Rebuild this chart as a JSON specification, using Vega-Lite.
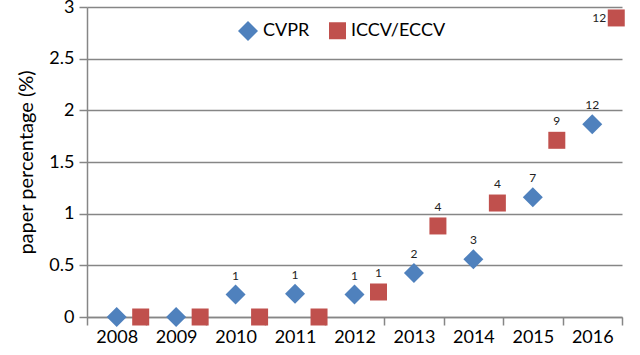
{
  "$schema": "https://vega.github.io/schema/vega-lite/v6.json",
  "autosize": "none",
  "width": 535,
  "height": 310,
  "padding": {"left": 87, "top": 7, "right": 18, "bottom": 38},
  "background": "white",
  "config": {
    "view": {"stroke": null},
    "font": "Lato"
  },
  "data": {
    "values": [
      {"year": "2008", "series": "CVPR", "value": 0, "label": null},
      {"year": "2009", "series": "CVPR", "value": 0, "label": null},
      {"year": "2010", "series": "CVPR", "value": 0.217, "label": "1"},
      {"year": "2011", "series": "CVPR", "value": 0.226, "label": "1"},
      {"year": "2012", "series": "CVPR", "value": 0.217, "label": "1"},
      {"year": "2013", "series": "CVPR", "value": 0.426, "label": "2"},
      {"year": "2014", "series": "CVPR", "value": 0.558, "label": "3"},
      {"year": "2015", "series": "CVPR", "value": 1.16, "label": "7"},
      {"year": "2016", "series": "CVPR", "value": 1.865, "label": "12"},
      {"year": "2008", "series": "ICCV/ECCV", "value": 0, "label": null},
      {"year": "2009", "series": "ICCV/ECCV", "value": 0, "label": null},
      {"year": "2010", "series": "ICCV/ECCV", "value": 0, "label": null},
      {"year": "2011", "series": "ICCV/ECCV", "value": 0, "label": null},
      {"year": "2012", "series": "ICCV/ECCV", "value": 0.242, "label": "1"},
      {"year": "2013", "series": "ICCV/ECCV", "value": 0.881, "label": "4"},
      {"year": "2014", "series": "ICCV/ECCV", "value": 1.103, "label": "4"},
      {"year": "2015", "series": "ICCV/ECCV", "value": 1.71, "label": "9"},
      {"year": "2016", "series": "ICCV/ECCV", "value": 2.894, "label": "12"}
    ]
  },
  "encoding": {
    "x": {
      "field": "year", "type": "ordinal",
      "scale": {"type": "band", "paddingInner": 0, "paddingOuter": 0},
      "axis": {
        "title": null, "labelAngle": 0, "labelFontSize": 18, "labelColor": "#000",
        "labelPadding": 3, "tickBand": "extent", "tickSize": 8, "tickColor": "#868686",
        "tickWidth": 1.5, "domainColor": "#868686", "domainWidth": 1.5, "grid": false
      }
    },
    "xOffset": {
      "field": "series", "type": "nominal",
      "scale": {"domain": ["CVPR", "ICCV/ECCV"], "range": [29.7, 53.7], "paddingInner": 0, "paddingOuter": 0}
    },
    "y": {
      "field": "value", "type": "quantitative",
      "scale": {"domain": [0, 3], "nice": false},
      "axis": {
        "title": "paper percentage (%)", "titleFontSize": 20, "titleFontWeight": "normal",
        "titleColor": "#000", "titlePadding": 12, "format": "~g",
        "values": [0, 0.5, 1, 1.5, 2, 2.5, 3], "labelFontSize": 18, "labelColor": "#000",
        "labelPadding": 5, "tickSize": 8, "tickColor": "#868686", "tickWidth": 1.5,
        "domainColor": "#868686", "domainWidth": 1.5,
        "grid": true, "gridColor": "#868686", "gridWidth": 1.5
      }
    }
  },
  "layer": [
    {
      "mark": {"type": "point", "filled": true, "opacity": 1},
      "encoding": {
        "color": {
          "field": "series", "type": "nominal",
          "scale": {"domain": ["CVPR", "ICCV/ECCV"], "range": ["#4F81BD", "#C0504D"]},
          "legend": {
            "title": null, "orient": "none", "direction": "horizontal",
            "legendX": 150, "legendY": 13, "labelFontSize": 18, "labelColor": "#000",
            "symbolSize": 220, "columnPadding": 18, "labelOffset": 4, "symbolOpacity": 1
          }
        },
        "shape": {
          "field": "series", "type": "nominal",
          "scale": {"domain": ["CVPR", "ICCV/ECCV"], "range": ["diamond", "square"]},
          "legend": null
        },
        "size": {
          "field": "series", "type": "nominal",
          "scale": {"domain": ["CVPR", "ICCV/ECCV"], "range": [400, 289]},
          "legend": null
        }
      }
    },
    {
      "transform": [
        {"filter": "datum.label != null && !(datum.year == '2016' && datum.series == 'ICCV/ECCV')"}
      ],
      "mark": {"type": "text", "dy": -19, "fontSize": 12, "color": "#222", "baseline": "middle"},
      "encoding": {"text": {"field": "label"}}
    },
    {
      "transform": [
        {"filter": "datum.year == '2016' && datum.series == 'ICCV/ECCV'"}
      ],
      "mark": {"type": "text", "dx": -17, "fontSize": 12, "color": "#222", "baseline": "middle"},
      "encoding": {"text": {"field": "label"}}
    }
  ]
}
